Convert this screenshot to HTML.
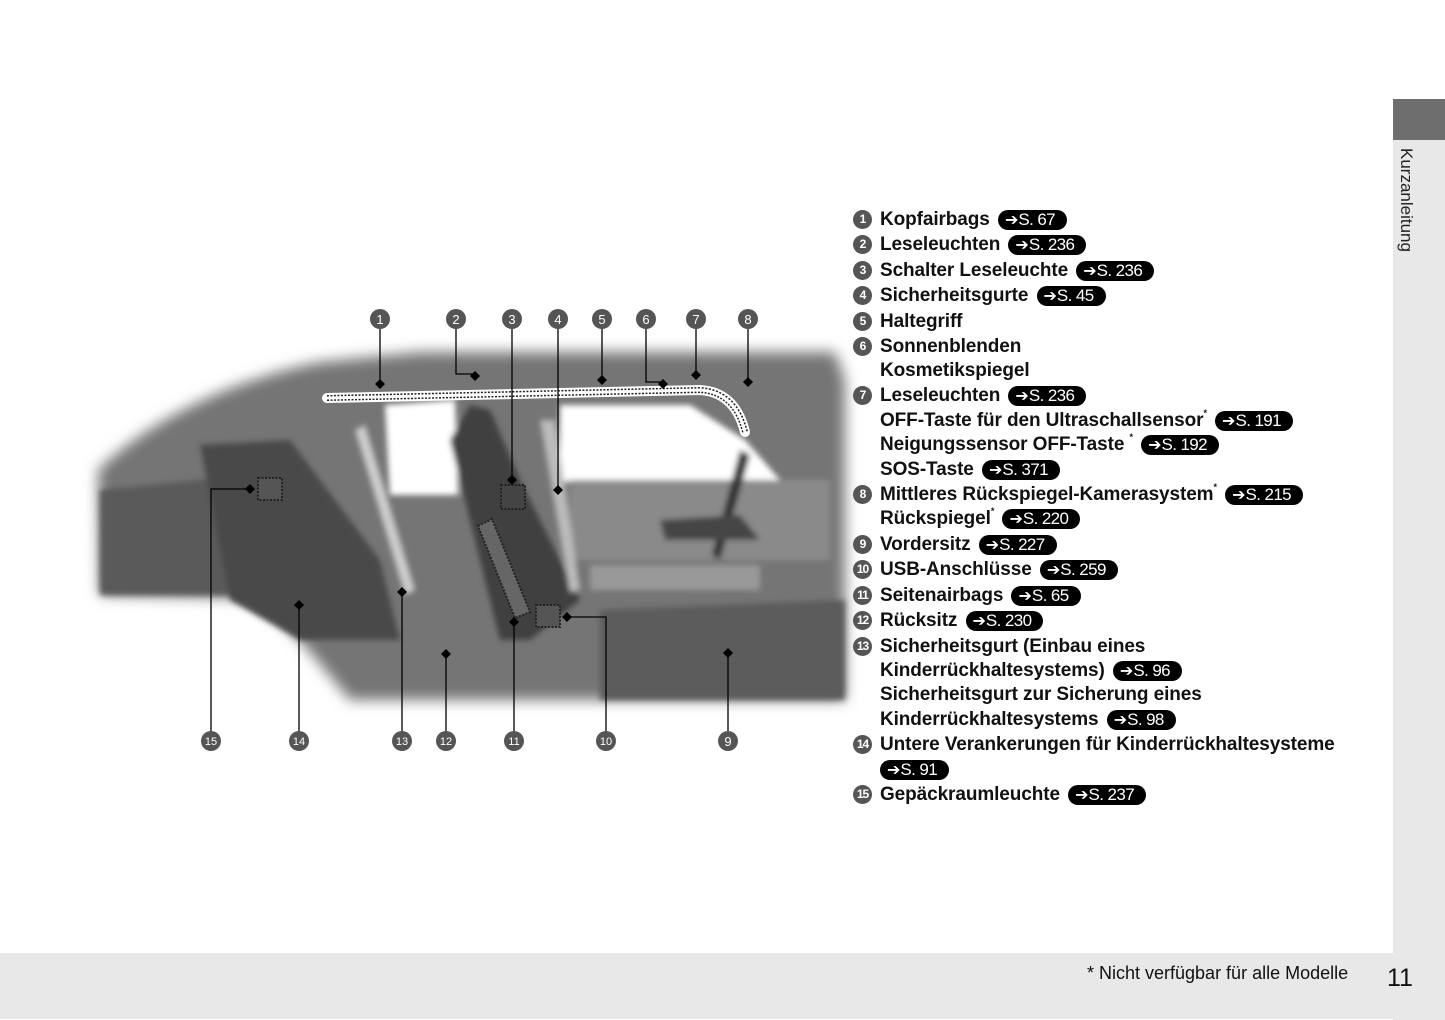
<!DOCTYPE html>
<html><head><meta charset="utf-8"><style>
body{margin:0;width:1445px;height:1019px;background:#fff;position:relative;overflow:hidden;font-family:"Liberation Sans",sans-serif}
.ln{position:absolute;left:880px;font-weight:bold;font-size:19px;letter-spacing:-0.1px;color:#111;white-space:nowrap;line-height:20px;height:20px}
.n{position:absolute;left:-27px;top:0px;width:19px;height:19px;border-radius:50%;background:#555;color:#fff;font-size:12px;text-align:center;line-height:19px;letter-spacing:-1px}
.b{display:inline-block;background:#000;color:#fff;font-weight:normal;font-size:17px;border-radius:10px;height:20px;line-height:20px;padding:0 12px 0 7px;vertical-align:top;margin-left:3px;letter-spacing:-0.6px}
.b i{font-style:normal;font-size:16px;letter-spacing:0}
sup{font-size:9px;line-height:0;vertical-align:top;position:relative;top:2px}
</style></head><body>
<div style="position:absolute;left:1393px;top:99px;width:52px;height:41px;background:#6e6e6e"></div>
<div style="position:absolute;left:1393px;top:140px;width:52px;height:880px;background:#e8e8e8"></div>
<div style="position:absolute;left:0;top:953px;width:1445px;height:66px;background:#e8e8e8"></div>
<div style="position:absolute;left:1396px;top:148px;writing-mode:vertical-rl;font-size:17px;color:#222">Kurzanleitung</div>
<div style="position:absolute;left:1087px;top:963px;font-size:18px;color:#111">* Nicht verfügbar für alle Modelle</div>
<div style="position:absolute;left:1387px;top:964px;font-size:25px;color:#111">11</div>

<svg style="position:absolute;left:0;top:0" width="860" height="780">
<defs><filter id="bl" x="-10%" y="-10%" width="120%" height="120%"><feGaussianBlur stdDeviation="7"/></filter>
<filter id="b2"><feGaussianBlur stdDeviation="3"/></filter></defs>
<g filter="url(#bl)">
<path d="M98,470 C150,420 230,380 320,362 L420,352 L835,352 L845,380 L845,700 L350,700 C300,640 270,600 240,598 L100,595 Z" fill="#747474"/>
</g>
<g filter="url(#b2)">
<path d="M100,490 L300,470 L300,595 L100,595 Z" fill="#5a5a5a"/>
<path d="M385,405 L455,400 L458,495 L390,495 Z" fill="#fff"/>
<path d="M560,405 L690,405 L745,440 L780,480 L560,482 Z" fill="#fff"/>
<path d="M570,480 L830,480 L830,560 L570,560 Z" fill="#8a8a8a"/>
<path d="M590,565 L760,565 L760,590 L590,590 Z" fill="#999"/>
<path d="M200,445 L290,440 L380,560 L400,640 L300,640 L230,600 Z" fill="#4a4a4a"/>
<path d="M450,440 L470,405 L490,410 L520,480 L580,600 L530,640 L500,640 Z" fill="#3f3f3f"/>
<path d="M355,430 L365,425 L415,590 L405,595 Z" fill="#ccc"/>
<path d="M540,420 L555,420 L580,590 L570,592 Z" fill="#bbb"/>
<path d="M740,450 L750,455 L720,560 L712,555 Z" fill="#333"/>
<path d="M660,520 L740,515 L760,540 L665,540 Z" fill="#444"/>
<path d="M600,610 L845,600 L845,700 L600,700 Z" fill="#5c5c5c"/>
</g>
<path d="M327,398 L700,390 Q735,392 745,432" fill="none" stroke="#fff" stroke-width="10" stroke-linecap="round"/>
<path d="M327,398 L700,390 Q735,392 745,432" fill="none" stroke="#222" stroke-width="6" stroke-dasharray="2 1.5"/>
<path d="M327,398 L700,390 Q735,392 745,432" fill="none" stroke="#fff" stroke-width="3"/>
<g fill="none" stroke="#222" stroke-width="2" stroke-dasharray="2 1.5">
<rect x="258" y="478" width="24" height="22" fill="#555"/>
<rect x="501" y="485" width="24" height="24" fill="#444"/>
<rect x="536" y="605" width="24" height="22" fill="#555"/>
<path d="M478,526 L492,519 L530,612 L515,618 Z" fill="#666"/>
</g>
<g stroke="#000" stroke-width="1.3" fill="none">
<path d="M380,328 V384"/><path d="M456,328 V374 H475"/><path d="M512,328 V480"/><path d="M558,328 V490"/>
<path d="M602,328 V380"/><path d="M646,328 V382 H663"/><path d="M696,328 V375"/><path d="M748,328 V382"/>
<path d="M211,732 V489 H250"/><path d="M299,732 V605"/><path d="M402,732 V592"/><path d="M446,732 V654"/>
<path d="M514,732 V622"/><path d="M606,732 V617 H567"/><path d="M728,732 V653"/>
</g>
<g fill="#000">
<path d="M380,379 l5,5 -5,5 -5,-5z"/><path d="M475,371 l5,5 -5,5 -5,-5z"/><path d="M512,475 l5,5 -5,5 -5,-5z"/><path d="M558,485 l5,5 -5,5 -5,-5z"/>
<path d="M602,375 l5,5 -5,5 -5,-5z"/><path d="M663,379 l5,5 -5,5 -5,-5z"/><path d="M696,370 l5,5 -5,5 -5,-5z"/><path d="M748,377 l5,5 -5,5 -5,-5z"/>
<path d="M250,484 l5,5 -5,5 -5,-5z"/><path d="M299,600 l5,5 -5,5 -5,-5z"/><path d="M402,587 l5,5 -5,5 -5,-5z"/><path d="M446,649 l5,5 -5,5 -5,-5z"/>
<path d="M514,617 l5,5 -5,5 -5,-5z"/><path d="M567,612 l5,5 -5,5 -5,-5z"/><path d="M728,648 l5,5 -5,5 -5,-5z"/>
</g>
<g fill="#555"><circle cx="380" cy="319" r="10"/><circle cx="456" cy="319" r="10"/><circle cx="512" cy="319" r="10"/><circle cx="558" cy="319" r="10"/><circle cx="602" cy="319" r="10"/><circle cx="646" cy="319" r="10"/><circle cx="696" cy="319" r="10"/><circle cx="748" cy="319" r="10"/>
<circle cx="211" cy="741" r="10"/><circle cx="299" cy="741" r="10"/><circle cx="402" cy="741" r="10"/><circle cx="446" cy="741" r="10"/><circle cx="514" cy="741" r="10"/><circle cx="606" cy="741" r="10"/><circle cx="728" cy="741" r="10"/></g>
<g fill="#fff" font-family="Liberation Sans" font-size="13" text-anchor="middle">
<text x="380" y="324">1</text><text x="456" y="324">2</text><text x="512" y="324">3</text><text x="558" y="324">4</text><text x="602" y="324">5</text><text x="646" y="324">6</text><text x="696" y="324">7</text><text x="748" y="324">8</text>
<text x="211" y="745" font-size="11">15</text><text x="299" y="745" font-size="11">14</text><text x="402" y="745" font-size="11">13</text><text x="446" y="745" font-size="11">12</text><text x="514" y="745" font-size="11">11</text><text x="606" y="745" font-size="11">10</text><text x="728" y="746">9</text>
</g>
</svg>

<div class="ln" style="top:210px"><span class="n">1</span>Kopfairbags <span class="b"><i>➔</i>S. 67</span></div>
<div class="ln" style="top:235px"><span class="n">2</span>Leseleuchten <span class="b"><i>➔</i>S. 236</span></div>
<div class="ln" style="top:261px"><span class="n">3</span>Schalter Leseleuchte <span class="b"><i>➔</i>S. 236</span></div>
<div class="ln" style="top:286px"><span class="n">4</span>Sicherheitsgurte <span class="b"><i>➔</i>S. 45</span></div>
<div class="ln" style="top:312px"><span class="n">5</span>Haltegriff</div>
<div class="ln" style="top:337px"><span class="n">6</span>Sonnenblenden</div>
<div class="ln" style="top:361px">Kosmetikspiegel</div>
<div class="ln" style="top:386px"><span class="n">7</span>Leseleuchten <span class="b"><i>➔</i>S. 236</span></div>
<div class="ln" style="top:411px">OFF-Taste für den Ultraschallsensor<sup>*</sup> <span class="b"><i>➔</i>S. 191</span></div>
<div class="ln" style="top:435px">Neigungssensor OFF-Taste <sup>*</sup> <span class="b"><i>➔</i>S. 192</span></div>
<div class="ln" style="top:460px">SOS-Taste <span class="b"><i>➔</i>S. 371</span></div>
<div class="ln" style="top:485px"><span class="n">8</span>Mittleres Rückspiegel-Kamerasystem<sup>*</sup> <span class="b"><i>➔</i>S. 215</span></div>
<div class="ln" style="top:509px">Rückspiegel<sup>*</sup> <span class="b"><i>➔</i>S. 220</span></div>
<div class="ln" style="top:535px"><span class="n">9</span>Vordersitz <span class="b"><i>➔</i>S. 227</span></div>
<div class="ln" style="top:560px"><span class="n">10</span>USB-Anschlüsse <span class="b"><i>➔</i>S. 259</span></div>
<div class="ln" style="top:586px"><span class="n">11</span>Seitenairbags <span class="b"><i>➔</i>S. 65</span></div>
<div class="ln" style="top:611px"><span class="n">12</span>Rücksitz <span class="b"><i>➔</i>S. 230</span></div>
<div class="ln" style="top:637px"><span class="n">13</span>Sicherheitsgurt (Einbau eines</div>
<div class="ln" style="top:661px">Kinderrückhaltesystems) <span class="b"><i>➔</i>S. 96</span></div>
<div class="ln" style="top:685px">Sicherheitsgurt zur Sicherung eines</div>
<div class="ln" style="top:710px">Kinderrückhaltesystems <span class="b"><i>➔</i>S. 98</span></div>
<div class="ln" style="top:735px"><span class="n">14</span>Untere Verankerungen für Kinderrückhaltesysteme</div>
<div class="ln" style="top:760px"><span class="b" style="margin-left:0"><i>➔</i>S. 91</span></div>
<div class="ln" style="top:785px"><span class="n">15</span>Gepäckraumleuchte <span class="b"><i>➔</i>S. 237</span></div>
</body></html>
